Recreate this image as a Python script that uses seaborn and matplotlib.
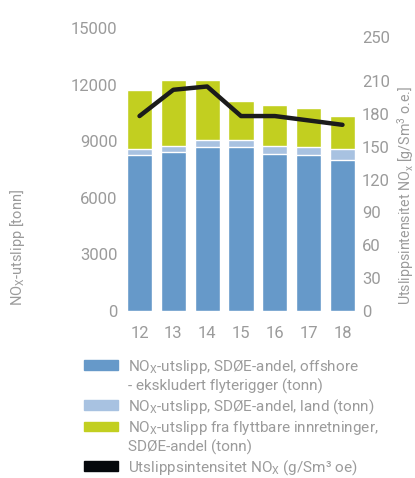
import numpy as np
import pandas as pd
import matplotlib.pyplot as plt
import seaborn as sns
from matplotlib.patches import Patch

# Verdier lest av figuren
years = ['12', '13', '14', '15', '16', '17', '18']
offshore = [8270, 8430, 8690, 8690, 8320, 8270, 8000]
land = [300, 330, 370, 370, 440, 420, 570]
flyttbare = [3140, 3480, 3180, 2070, 2160, 2070, 1760]
intensitet = [178, 202, 205, 178, 178, 174, 170]

left_ticks = [0, 3000, 6000, 9000, 12000, 15000]
right_ticks = [0, 30, 60, 90, 120, 150, 180, 210, 250]

c_offshore = '#6699c9'
c_land = '#a8c2e1'
c_flytt = '#c2cf20'
c_line = '#1b1b1b'
c_text = '#9b9b9b'

sns.set_style('white')
plt.rcParams['font.family'] = ['Roboto', 'DejaVu Sans']
plt.rcParams['mathtext.fontset'] = 'custom'
plt.rcParams['mathtext.rm'] = 'Roboto'
plt.rcParams['mathtext.it'] = 'Roboto'
plt.rcParams['mathtext.bf'] = 'Roboto'

df = pd.DataFrame({'year': years, 'offshore': offshore, 'land': land,
                   'flyttbare': flyttbare, 'intensitet': intensitet})
df['land_top'] = df['offshore'] + df['land']
df['total'] = df['land_top'] + df['flyttbare']
df['pos'] = np.arange(len(df))

fig = plt.figure(figsize=(4.15, 4.78), dpi=100)
ax = fig.add_axes([127 / 415, 167 / 478, 228 / 415, 283 / 478])

# Stablede søyler: tegnes bakfra
sns.barplot(data=df, x='year', y='total', color=c_flytt, width=0.74, saturation=1, ax=ax)
sns.barplot(data=df, x='year', y='land_top', color=c_land, width=0.74, saturation=1, ax=ax)
sns.barplot(data=df, x='year', y='offshore', color=c_offshore, width=0.74, saturation=1, ax=ax)

ax.set_xlim(-0.37, 6.37)
ax.set_ylim(0, 15000)
ax.set_yticks(left_ticks)
ax.set_yticklabels([str(t) for t in left_ticks])
ax.set_xlabel('')
ax.set_ylabel(r'NO$_X$-utslipp [tonn]', color=c_text, fontsize=10.5)
ax.yaxis.set_label_coords(-0.44, 0.226)
ax.tick_params(axis='y', length=0, pad=7, labelsize=12, colors=c_text)
ax.tick_params(axis='x', length=0, pad=11, labelsize=12, colors=c_text)
for s in ax.spines.values():
    s.set_visible(False)

ax2 = ax.twinx()
sns.lineplot(data=df, x='pos', y='intensitet', color=c_line, linewidth=3.2,
             solid_capstyle='round', ax=ax2)
ax2.set_ylim(0, 258.4)
ax2.set_yticks(right_ticks)
ax2.set_yticklabels([str(t) for t in right_ticks])
ax2.set_ylabel(r'Utslippsintensitet NO$_x$ [g/Sm$^3$ o.e.]', color=c_text, fontsize=10.3)
ax2.yaxis.set_label_coords(1.175, 0.41)
ax2.tick_params(axis='y', length=0, pad=5, labelsize=12, colors=c_text)
for s in ax2.spines.values():
    s.set_visible(False)
ax2.grid(False)
ax.grid(False)

handles = [Patch(color=c_offshore), Patch(color='none'),
           Patch(color=c_land), Patch(color=c_flytt), Patch(color='none'),
           Patch(color='#05080c')]
labels = [r'NO$_X$-utslipp, SDØE-andel, offshore',
          '- ekskludert flyterigger (tonn)',
          r'NO$_X$-utslipp, SDØE-andel, land (tonn)',
          r'NO$_X$-utslipp fra flyttbare innretninger,',
          'SDØE-andel (tonn)',
          r'Utslippsintensitet NO$_X$ (g/Sm³ oe)']
leg = fig.legend(handles, labels, loc='upper left', bbox_to_anchor=(84 / 415, 0.252),
                 frameon=False, fontsize=11, handlelength=2.2, handleheight=0.6,
                 handletextpad=0.65, labelspacing=0.2, borderaxespad=0, borderpad=0)
for t in leg.get_texts():
    t.set_color(c_text)

fig.savefig('out.png', dpi=100)
